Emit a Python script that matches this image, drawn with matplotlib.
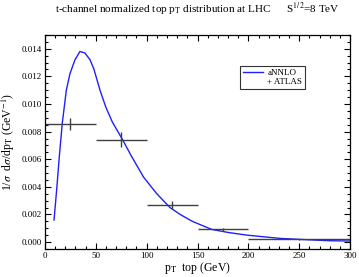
import numpy as np
import matplotlib
matplotlib.use('Agg')
import matplotlib.pyplot as plt
from matplotlib.lines import Line2D
from matplotlib.ticker import MultipleLocator, FormatStrFormatter

plt.rcParams['font.family'] = 'Liberation Serif'
plt.rcParams['mathtext.fontset'] = 'stix'

# aNNLO curve
curve_pt = [8.9, 11.5, 14.1, 17, 21, 24.6, 29.5, 34.4, 39.3, 44.3, 48, 54.1, 59.7, 66.2,
            76.4, 85.2, 97, 110, 123, 133, 145, 164, 180, 198, 231, 250, 280, 300]
curve_val = [0.0016, 0.0038, 0.0062, 0.0086, 0.0110, 0.0122, 0.0132, 0.0138, 0.01369,
             0.0132, 0.01255, 0.0110, 0.0098, 0.0087, 0.0074, 0.0062, 0.0047, 0.0035,
             0.0025, 0.0020, 0.0015, 0.00092, 0.0007, 0.00051, 0.00027, 0.0002, 0.0001, 0.00008]

# ATLAS data
bin_lo = [0, 50, 100, 150, 200]
bin_hi = [50, 100, 150, 200, 300]
data_x = [25, 75, 125, 175, 250]
data_y = [0.00856, 0.00742, 0.0027, 0.00092, 0.0002]
data_err = [0.00045, 0.00055, 0.00028, 0.0001, 0.00003]

fig = plt.figure(figsize=(3.59, 2.77), dpi=100)
ax = fig.add_axes([0.1253, 0.101, 0.8497, 0.773])

ax.plot(curve_pt, curve_val, color='#1f1fff', lw=1.0)

bin_lo = np.array(bin_lo)
bin_hi = np.array(bin_hi)
data_x = np.array(data_x)
ax.errorbar(data_x, data_y, xerr=[data_x - bin_lo, bin_hi - data_x], yerr=data_err,
            fmt='none', ecolor='#404040', elinewidth=1.0, capsize=0)

ax.set_xlim(0, 300)
ax.set_ylim(-0.0005, 0.015)
ax.xaxis.set_major_locator(MultipleLocator(50))
ax.xaxis.set_minor_locator(MultipleLocator(10))
ax.yaxis.set_major_locator(MultipleLocator(0.002))
ax.yaxis.set_minor_locator(MultipleLocator(0.0005))
ax.yaxis.set_major_formatter(FormatStrFormatter('%.3f'))
ax.tick_params(which='both', direction='in', top=True, right=True, labelsize=6.5, width=0.8)
ax.tick_params(which='major', length=4, pad=2.5)
ax.tick_params(which='minor', length=2)
for s in ax.spines.values():
    s.set_linewidth(0.9)

ax.set_xlabel(r'p$_\mathrm{T}$  top (GeV)', fontsize=8.5, labelpad=0)
ax.set_ylabel(r'1/$\sigma$  d$\sigma$/dp$_\mathrm{T}$ (GeV$^{-1}$)', fontsize=8.5, labelpad=3)
fig.text(0.55, 0.968, r't-channel normalized top p$_\mathrm{T}$ distribution at LHC      S$^{1/2}$=8 TeV',
         ha='center', va='center', fontsize=8)

handles = [Line2D([], [], color='#1f1fff', lw=1.0), Line2D([], [], color='none')]
leg = ax.legend(handles, ['aNNLO', '+ ATLAS'], loc='upper right', bbox_to_anchor=(0.852, 0.855),
                fontsize=6.5, frameon=True, fancybox=False, handlelength=2.2, handletextpad=0.5,
                labelspacing=0.1, borderpad=0.3, borderaxespad=0)
leg.get_frame().set_edgecolor('black')
leg.get_frame().set_linewidth(0.8)

fig.savefig('out.png', dpi=100)
